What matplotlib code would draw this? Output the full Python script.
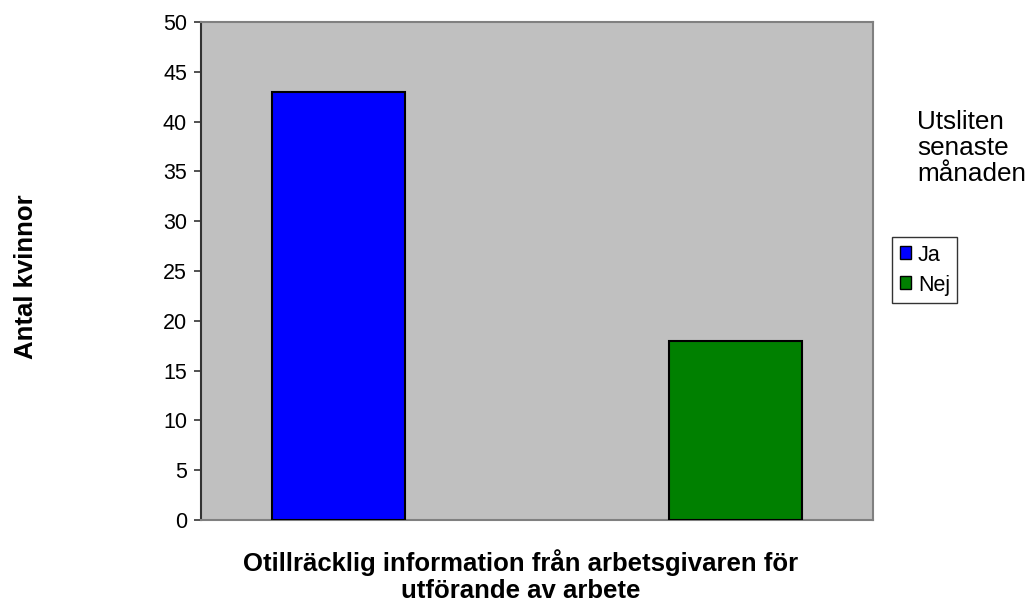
import matplotlib
matplotlib.use("Agg")
import matplotlib.pyplot as plt
from matplotlib.patches import Patch

plt.rcParams['font.family'] = ['Liberation Sans', 'DejaVu Sans']

# Data
series = ["Ja", "Nej"]
values = [43, 18]
colors = ["#0000FF", "#008000"]
y_ticks = [0, 5, 10, 15, 20, 25, 30, 35, 40, 45, 50]
x_title = "Otillräcklig information från arbetsgivaren för\nutförande av arbete"
y_title = "Antal kvinnor"
legend_title = "Utsliten\nsenaste\nmånaden"

W, H = 1031, 603
fig = plt.figure(figsize=(W / 100, H / 100), dpi=100)
fig.patch.set_facecolor("white")

# plot area in pixel coordinates
left, right, top, bottom = 201, 873, 22, 520
ax = fig.add_axes([left / W, 1 - bottom / H, (right - left) / W, (bottom - top) / H])
ax.set_facecolor("#C0C0C0")

positions = [0, 1]
bar_w = 0.335
for x, v, c in zip(positions, values, colors):
    ax.bar(x, v, width=bar_w, color=c, edgecolor="black", linewidth=1.5, zorder=3)

ax.set_xlim(-0.346, 1.345)
ax.set_ylim(0, 50)
ax.set_yticks(y_ticks)
ax.set_yticklabels([str(t) for t in y_ticks], fontsize=15.5)
ax.set_xticks([])
ax.tick_params(axis="y", direction="out", length=5, width=1.2, color="#333333", pad=5)

for s in ["top", "right", "bottom"]:
    ax.spines[s].set_color("#808080")
    ax.spines[s].set_linewidth(1.5)
ax.spines["left"].set_color("#333333")
ax.spines["left"].set_linewidth(1.5)

# axis titles
fig.text(521 / W, 1 - 576 / H, x_title, ha="center", va="center",
         fontsize=18.5, fontweight="bold", linespacing=1.15)
fig.text(26 / W, 1 - 277 / H, y_title, ha="center", va="center",
         rotation=90, fontsize=18.5, fontweight="bold")

# legend title sits above the legend box
fig.text(917 / W, 1 - 148 / H, legend_title, ha="left", va="center",
         fontsize=18.8, linespacing=1.08)

handles = [Patch(facecolor=c, edgecolor="black", linewidth=1.0) for c in colors]
leg = fig.legend(handles, series, loc="upper left",
                 bbox_to_anchor=(892 / W, 1 - 237 / H), borderaxespad=0,
                 fontsize=15.5, frameon=True, fancybox=False,
                 handlelength=0.55, handleheight=0.55, handletextpad=0.3,
                 borderpad=0.35, labelspacing=0.42)
leg.get_frame().set_edgecolor("black")
leg.get_frame().set_linewidth(1.0)

fig.savefig("out.png", dpi=100, facecolor="white")
